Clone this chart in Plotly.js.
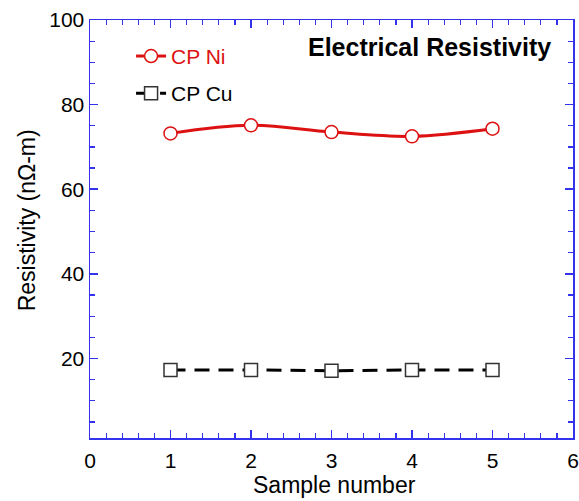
<!DOCTYPE html>
<html>
<head>
<meta charset="utf-8">
<script src="https://cdn.plot.ly/plotly-3.0.1.min.js"></script>
<style>html,body{margin:0;padding:0;background:#fff;}#chart{width:579px;height:501px;}</style>
</head>
<body>
<div id="chart"></div>
<script>
const sampleNumbers = [1, 2, 3, 4, 5];
const resistivityNi = [73.2, 75.1, 73.5, 72.5, 74.3];
const resistivityCu = [17.3, 17.3, 17.1, 17.3, 17.3];
const xTicks = [0, 1, 2, 3, 4, 5, 6];
const yTicks = [20, 40, 60, 80, 100];

const axisBlue = '#3333ee';
const font = 'Liberation Sans, Arial, sans-serif';

const traces = [
  {
    x: sampleNumbers, y: resistivityNi, name: '<span style="color:#dd1111">CP Ni</span>',
    mode: 'lines+markers', line: {color: '#dd1111', width: 3, shape: 'spline', smoothing: 1},
    marker: {symbol: 'circle', size: 13, color: '#ffffff', line: {color: '#dd1111', width: 1.5}},
    legend: 'legend'
  },
  {
    x: sampleNumbers, y: resistivityCu, name: 'CP Cu',
    mode: 'lines+markers', line: {color: '#000000', width: 3, dash: '15px,9px'},
    marker: {symbol: 'square', size: 13, color: '#ffffff', line: {color: '#333333', width: 1.5}},
    legend: 'legend2'
  }
];

const axisCommon = {
  showline: true, linecolor: axisBlue, linewidth: 1.5, mirror: 'allticks',
  ticks: 'inside', tickcolor: axisBlue, ticklen: 8, tickwidth: 1.5,
  showgrid: false, zeroline: false,
  tickfont: {family: font, size: 21, color: '#000'},
};

const layout = {
  width: 579, height: 501,
  margin: {l: 90, r: 6, t: 20, b: 63},
  paper_bgcolor: '#fff', plot_bgcolor: '#fff',
  showlegend: true,
  xaxis: Object.assign({}, axisCommon, {
    range: [0, 6], tickvals: xTicks, ticktext: xTicks.map(String),
    ticklabelstandoff: 3,
    minor: {dtick: 0.2, ticks: 'inside', ticklen: 5, tickcolor: axisBlue, tickwidth: 1.2}
  }),
  yaxis: Object.assign({}, axisCommon, {
    range: [1.2, 100], tickvals: yTicks, ticktext: yTicks.map(String),
    ticksuffix: '\u00a0',
    minor: {dtick: 5, tick0: 0, ticks: 'inside', ticklen: 5, tickcolor: axisBlue, tickwidth: 1.2}
  }),
  legend: {x: 0.085, y: 0.962, xanchor: 'left', yanchor: 'top', bgcolor: 'rgba(0,0,0,0)',
    font: {family: font, size: 21, color: '#dd1111'}},
  legend2: {x: 0.085, y: 0.873, xanchor: 'left', yanchor: 'top', bgcolor: 'rgba(0,0,0,0)',
    font: {family: font, size: 21, color: '#000'}},
  annotations: [
    {
      text: '<b>Electrical Resistivity</b>', xref: 'paper', yref: 'paper', x: 0.9586, y: 0.935,
      xanchor: 'right', yanchor: 'middle', showarrow: false,
      font: {family: font, size: 25, color: '#000'}
    },
    {
      text: 'Sample number', xref: 'paper', yref: 'paper', x: 0.507, y: -0.113,
      xanchor: 'center', yanchor: 'middle', showarrow: false,
      font: {family: font, size: 23, color: '#000'}
    },
    {
      text: 'Resistivity (nΩ-m)', xref: 'paper', yref: 'paper', x: -0.131, y: 0.52,
      xanchor: 'center', yanchor: 'middle', textangle: -90, showarrow: false,
      font: {family: font, size: 23, color: '#000'}
    }
  ]
};

Plotly.newPlot('chart', traces, layout, {displayModeBar: false, staticPlot: true});
</script>
</body>
</html>
